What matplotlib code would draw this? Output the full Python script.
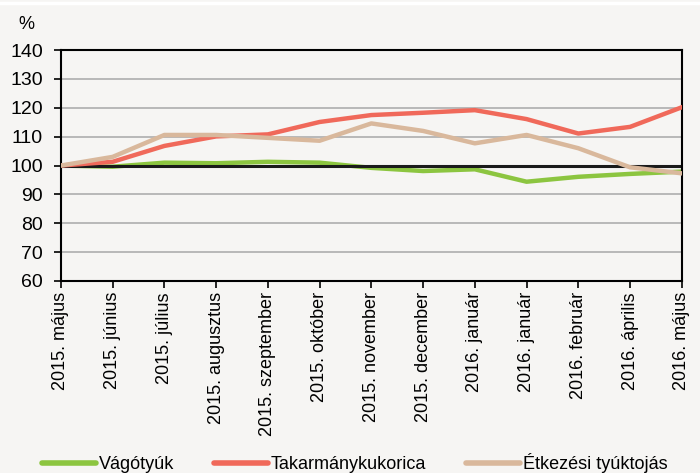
import matplotlib
matplotlib.use("Agg")
import matplotlib.pyplot as plt
from matplotlib.lines import Line2D

months = [
    "2015. május", "2015. június", "2015. július", "2015. augusztus",
    "2015. szeptember", "2015. október", "2015. november", "2015. december",
    "2016. január", "2016. január", "2016. február", "2016. április", "2016. május",
]
vagotyuk = [100, 99.6, 101, 100.8, 101.3, 101, 99.2, 98.1, 98.7, 94.4, 96.1, 97.1, 97.9]
takarmanykukorica = [100, 101.3, 106.8, 110.1, 110.8, 115.1, 117.5, 118.3, 119.2, 116.1, 111.1, 113.4, 120.2]
tojas = [100, 103, 110.6, 110.6, 109.6, 108.6, 114.6, 112, 107.7, 110.6, 106, 99.4, 97.3]

plt.rcParams["font.family"] = ["Liberation Sans", "DejaVu Sans"]
plt.rcParams["font.size"] = 13

bg = "#f6f5f3"
fig = plt.figure(figsize=(7.0, 4.73), dpi=100, facecolor=bg)
fig.add_artist(Line2D([0, 1], [0.993, 0.993], color="white", linewidth=2.5))
ax = fig.add_axes([0.087, 0.406, 0.887, 0.488], facecolor=bg)

x = list(range(len(months)))
ax.set_ylim(60, 140)
ax.set_xlim(0, len(months) - 1)
ax.set_yticks(range(60, 141, 10))
ax.grid(axis="y", color="#b8b8b8", linewidth=1.4, zorder=0)

ax.plot(x, vagotyuk, color="#8cc540", linewidth=3.2, label="Vágótyúk", zorder=2)
# the 100% baseline sits above the green series but under the other two
ax.axhline(100, color="#1a1a1a", linewidth=2.2, zorder=2.5)
ax.plot(x, takarmanykukorica, color="#f0695a", linewidth=3.2, label="Takarmánykukorica", zorder=3)
ax.plot(x, tojas, color="#d9b89c", linewidth=3.2, label="Étkezési tyúktojás", zorder=4)

ax.set_xticks(x)
ax.set_xticklabels(months, rotation=90)
for s in ax.spines.values():
    s.set_linewidth(1.5)
    s.set_color("black")
ax.tick_params(axis="y", direction="out", length=5, width=1.2, pad=8, labelsize=14)
ax.tick_params(axis="x", direction="out", length=5, width=1.2, pad=3)

fig.text(0.026, 0.948, "%", fontsize=13, ha="left", va="center")

leg = fig.legend(loc="lower center", bbox_to_anchor=(0.507, -0.035), ncol=3, frameon=False,
                 handlelength=3.0, handletextpad=0.15, columnspacing=2.2, fontsize=13)
for line in leg.get_lines():
    line.set_linewidth(4.0)
    line.set_solid_capstyle("round")

fig.savefig("out.png", dpi=100, facecolor=bg)
